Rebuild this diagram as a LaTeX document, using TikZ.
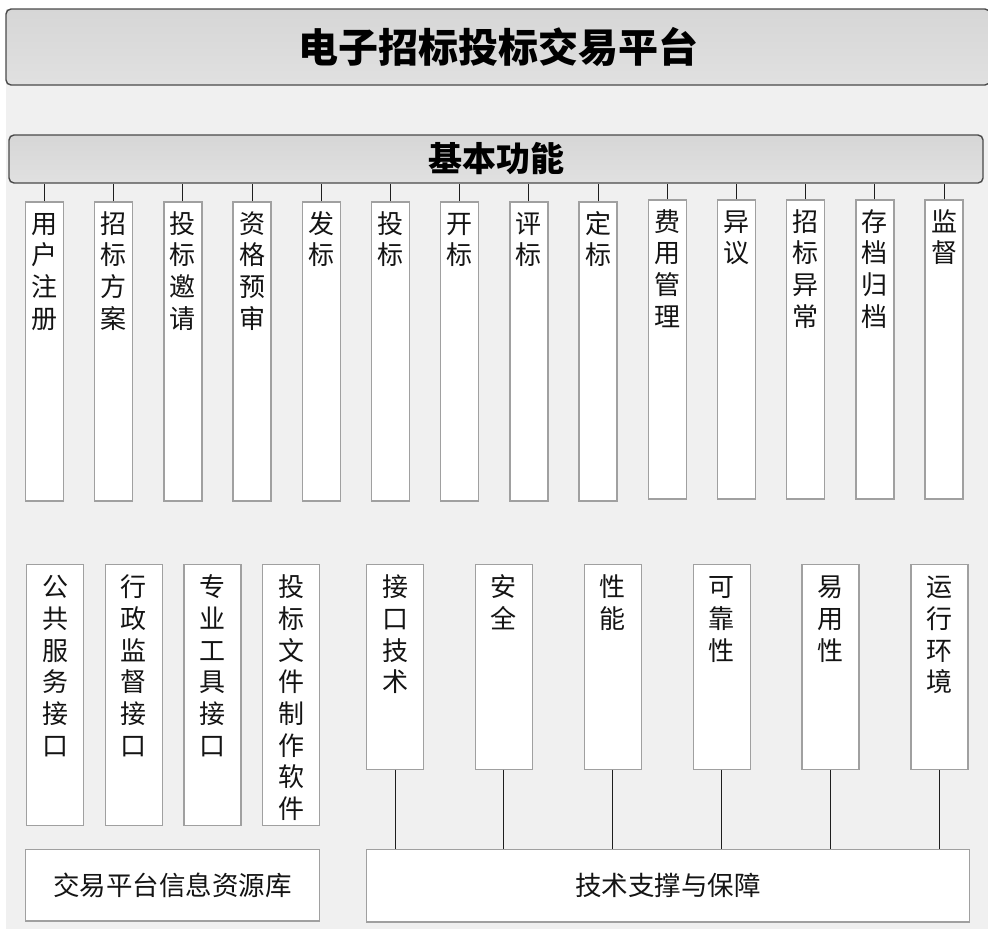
\documentclass[tikz,border=0pt]{standalone}
\usepackage{fontspec}
\setmainfont{Noto Sans CJK SC}
\usepackage{tikz}
\usetikzlibrary{positioning}

\definecolor{bggray}{HTML}{F0F0F0}
\definecolor{headline}{HTML}{4A4A4A}
\definecolor{boxline}{HTML}{A0A0A0}
\definecolor{wire}{HTML}{1E1E1E}

\tikzset{
  head/.style={draw=headline, line width=1.4pt, rounded corners=5pt, top color=black!16, bottom color=black!12, inner sep=0pt},
  fn/.style={draw=boxline, fill=white, line width=1.3pt, inner sep=0pt, minimum width=38pt, text width=30pt, align=center,
    text height=31pt, text depth=268pt, text=black!92, font=\fontsize{26}{31.7}\selectfont},
  ifc/.style={fn, minimum width=57pt, text height=32pt, text depth=229pt},
  tech/.style={ifc, text depth=172.6pt},
  base/.style={draw=boxline, fill=white, line width=1.3pt, inner sep=0pt, text=black!92, font=\fontsize{26.5}{26.5}\selectfont},
  conn/.style={draw=wire, line width=1pt}
}

\begin{document}
\begin{tikzpicture}[x=1pt, y=-1pt, on grid, node distance=69.2pt]
   \useasboundingbox (0,0) rectangle (988,929);
   \fill[bggray] (6,9) rectangle (988,929);

   \node[head, minimum width=984pt, minimum height=76pt, font=\bfseries\fontsize{40}{40}\selectfont] (title) at (498,47) {电子招标投标交易平台};
   \node[head, minimum width=974pt, minimum height=48pt, font=\bfseries\fontsize{34}{34}\selectfont] (func) at (496,159) {基本功能};

   \node[fn] (reg)  at (44.5,351.5)      {用\\户\\注\\册};
   \node[fn] (plan) [right=of reg]  {招\\标\\方\\案};
   \node[fn] (invt) [right=of plan] {投\\标\\邀\\请};
   \node[fn] (qual) [right=of invt] {资\\格\\预\\审};
   \node[fn] (issu) [right=of qual] {发\\标};
   \node[fn] (bid)  [right=of issu] {投\\标};
   \node[fn] (open) [right=of bid]  {开\\标};
   \node[fn] (eval) [right=of open] {评\\标};
   \node[fn] (awrd) [right=of eval] {定\\标};
   \node[fn] (fee)  [right=of awrd, yshift=2pt] {费\\用\\管\\理};
   \node[fn] (objc) [right=of fee]  {异\\议};
   \node[fn] (abn)  [right=of objc] {招\\标\\异\\常};
   \node[fn] (arch) [right=of abn]  {存\\档\\归\\档};
   \node[fn] (supv) [right=of arch] {监\\督};

   \node[ifc] (pub)  at (55,695.2)      {公\\共\\服\\务\\接\\口};
   \node[ifc] (adm)  [right=78.7pt of pub] {行\\政\\监\\督\\接\\口};
   \node[ifc] (tool) [right=78.7pt of adm] {专\\业\\工\\具\\接\\口};
   \node[ifc] (soft) [right=78.7pt of tool] {投\\标\\文\\件\\制\\作\\软\\件};

   \node[tech] (intf) at (395,667)      {接\\口\\技\\术};
   \node[tech] (sec)  [right=108.9pt of intf] {安\\全};
   \node[tech] (perf) [right=108.9pt of sec]  {性\\能};
   \node[tech] (rel)  [right=108.9pt of perf] {可\\靠\\性};
   \node[tech] (use)  [right=108.9pt of rel]  {易\\用\\性};
   \node[tech] (env)  [right=108.9pt of use]  {运\\行\\环\\境};

   \node[base, minimum width=293.6pt, minimum height=71.7pt] (lib) at (172.5,885.2) {交易平台信息资源库};
   \node[base, minimum width=602.6pt, minimum height=72.6pt] (sup) at (668,885.7) {技术支撑与保障};

   \path[conn]
    (reg)  edge (reg  |- func.south)
    (plan) edge (plan |- func.south)
    (invt) edge (invt |- func.south)
    (qual) edge (qual |- func.south)
    (issu) edge (issu |- func.south)
    (bid)  edge (bid  |- func.south)
    (open) edge (open |- func.south)
    (eval) edge (eval |- func.south)
    (awrd) edge (awrd |- func.south)
    (fee)  edge (fee  |- func.south)
    (objc) edge (objc |- func.south)
    (abn)  edge (abn  |- func.south)
    (arch) edge (arch |- func.south)
    (supv) edge (supv |- func.south)
    (intf) edge (intf |- sup.north)
    (sec)  edge (sec  |- sup.north)
    (perf) edge (perf |- sup.north)
    (rel)  edge (rel  |- sup.north)
    (use)  edge (use  |- sup.north)
    (env)  edge (env  |- sup.north);
\end{tikzpicture}
\end{document}
